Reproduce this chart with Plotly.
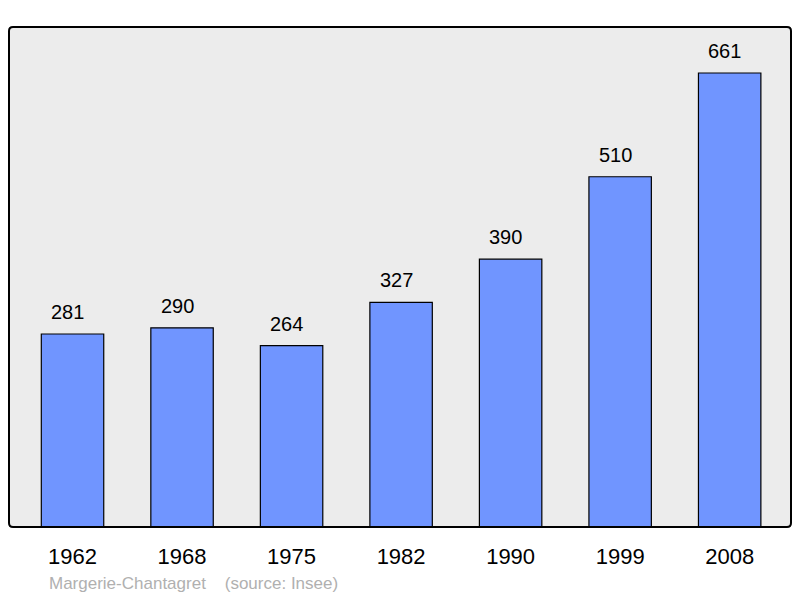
import plotly.graph_objects as go

# Population data
years = ["1962", "1968", "1975", "1982", "1990", "1999", "2008"]
population = [281, 290, 264, 327, 390, 510, 661]

bar_color = "#7095ff"

fig = go.Figure()
fig.add_trace(go.Bar(
    x=years,
    y=population,
    width=0.57,
    marker=dict(color=bar_color, line=dict(color="black", width=1.2)),
    hoverinfo="x+y",
))

# value labels above the bars (category axis -> use index)
for i, val in enumerate(population):
    fig.add_annotation(x=i, y=val, text=str(val), showarrow=False,
                       yshift=22, xshift=-5, font=dict(size=20, color="black"))

# page body has an 8px margin, so the figure is sized to fit inside it
W, H = 784, 590
L, R, T, B = 1, 1, 19, 71
pw, ph = W - L - R, H - T - B

fig.add_annotation(x=(47 - 8 - L) / pw, y=(527 - 583) / ph, xref="paper", yref="paper",
                   text="Margerie-Chantagret &nbsp;&nbsp; (source: Insee)",
                   showarrow=False, font=dict(size=17, color="#b0b0b0"),
                   xanchor="left", yanchor="middle")

# rounded frame around the plot area
rx, ry = 4 / pw, 4 / ph
path = (f"M {rx},0 L {1-rx},0 Q 1,0 1,{ry} L 1,{1-ry} Q 1,1 {1-rx},1 "
        f"L {rx},1 Q 0,1 0,{1-ry} L 0,{ry} Q 0,0 {rx},0 Z")
fig.add_shape(type="path", path=path, xref="paper", yref="paper",
              line=dict(color="black", width=2), layer="above")

fig.update_layout(
    width=W,
    height=H,
    margin=dict(l=L, r=R, t=T, b=B),
    paper_bgcolor="white",
    plot_bgcolor="#ececec",
    font=dict(family="Liberation Sans, Arial, sans-serif"),
    showlegend=False,
)
fig.update_xaxes(type="category", range=[-0.58, 6.56], showgrid=False, ticks="outside",
                 ticklen=10, tickcolor="rgba(0,0,0,0)", tickfont=dict(size=22, color="black"),
                 showline=False, zeroline=False)
fig.update_yaxes(range=[0, 728], showgrid=False, showticklabels=False,
                 zeroline=False, showline=False)

fig.write_html("out.html")
